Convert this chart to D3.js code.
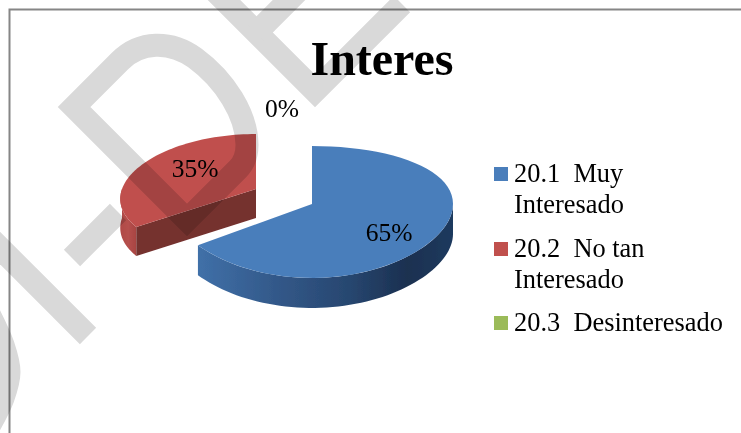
<!DOCTYPE html>
<html>
<head>
<meta charset="utf-8">
<script src="https://cdn.jsdelivr.net/npm/d3@7"></script>
<style>
  html, body { margin: 0; padding: 0; background: #fff; }
  svg { display: block; }
  text { font-family: "Liberation Serif", serif; fill: #000; }
</style>
</head>
<body>
<div id="chart"></div>
<script>
const width = 741;
const height = 433;

const categories = [['20.1  Muy', 'Interesado'], ['20.2  No tan', 'Interesado'], ['20.3  Desinteresado']];
const values = [65, 35, 0];
const percentLabels = ['65%', '35%', '0%'];
const colors = ['#4a7ebb', '#c0504d', '#9bbb59'];
const title = 'Interes';

const svg = d3.select('#chart')
    .append('svg')
    .attr('width', width)
    .attr('height', height);

const defs = svg.append('defs');

function wallGradient(id, stops) {
    const g = defs.append('linearGradient').attr('id', id);
    stops.forEach(s => g.append('stop').attr('offset', s[0]).attr('stop-color', s[1]));
}
wallGradient('blueWall', [[0, '#4070a8'], [0.3, '#33598a'], [0.6, '#27466f'], [0.82, '#1b3050'], [1, '#1f3a5e']]);
wallGradient('redWall', [[0, '#b04946'], [0.5, '#b5504d'], [1, '#a84341']]);

defs.append('filter')
    .attr('id', 'soft')
    .append('feGaussianBlur')
    .attr('stdDeviation', 0.5);

const pie = d3.pie().sort(null).value(d => d);
const slices = pie(values);

// hand fitted 3d look of each slice, the red one is pulled out
const views = [
    { cx: 312, cy: 204, r: 141, ry: 65, py: 0.121, qx: 0, depth: 30 },
    { cx: 256, cy: 189, r: 134, ry: 60.7, py: 0.1035, qx: 0.16, depth: 29 }
];

// angle is clockwise from the top, like d3.pie
function project(view, a, drop = 0) {
    const u = Math.sin(a);
    const v = -Math.cos(a);
    return [
        view.cx + view.r * u / (1 - view.qx * v),
        view.cy + view.ry * v / (1 - view.py * v) + drop
    ];
}

function arcPoints(view, a0, a1, drop = 0) {
    return d3.range(0, 61).map(i => project(view, a0 + (a1 - a0) * i / 60, drop));
}

const line = d3.line();
const pieG = svg.append('g').attr('id', 'pie').attr('filter', 'url(#soft)');

// blue wall, from the rim's right side round to the cut
const blue = slices[0];
const blueView = views[0];
const wallTop = arcPoints(blueView, Math.PI / 2, blue.endAngle);
const wallBottom = arcPoints(blueView, Math.PI / 2, blue.endAngle, blueView.depth).reverse();
pieG.append('path')
    .attr('d', line(wallTop.concat(wallBottom)) + 'Z')
    .attr('fill', 'url(#blueWall)');

pieG.append('path')
    .attr('d', line([[blueView.cx, blueView.cy]].concat(arcPoints(blueView, blue.startAngle, blue.endAngle))) + 'Z')
    .attr('fill', colors[0]);

// red walls
const red = slices[1];
const redView = views[1];
const rimEnd = 1.5 * Math.PI;
const redWallTop = arcPoints(redView, red.startAngle, rimEnd);
const redWallBottom = arcPoints(redView, red.startAngle, rimEnd, redView.depth).reverse();
pieG.append('path')
    .attr('d', line(redWallTop.concat(redWallBottom)) + 'Z')
    .attr('fill', 'url(#redWall)');

const corner = project(redView, red.startAngle);
pieG.append('path')
    .attr('d', line([
        [redView.cx, redView.cy],
        corner,
        [corner[0], corner[1] + redView.depth],
        [redView.cx, redView.cy + redView.depth]
    ]) + 'Z')
    .attr('fill', '#74302e');

pieG.append('path')
    .attr('d', line([[redView.cx, redView.cy]].concat(arcPoints(redView, red.startAngle, red.endAngle))) + 'Z')
    .attr('fill', colors[1]);

// percent labels
const labelPos = [[389, 241], [195, 177], [282, 117]];
svg.append('g').selectAll('text')
    .data(percentLabels)
    .enter()
    .append('text')
    .attr('x', (d, i) => labelPos[i][0])
    .attr('y', (d, i) => labelPos[i][1])
    .attr('text-anchor', 'middle')
    .attr('font-size', 25.5)
    .text(d => d);

svg.append('text')
    .attr('x', 382)
    .attr('y', 75)
    .attr('text-anchor', 'middle')
    .attr('font-size', 48)
    .attr('font-weight', 'bold')
    .text(title);

// legend
const legendY = [182, 257, 331];
const legend = svg.append('g').attr('id', 'legend');
categories.forEach((rows, i) => {
    legend.append('rect')
        .attr('x', 494)
        .attr('y', legendY[i] - 15)
        .attr('width', 14)
        .attr('height', 14)
        .attr('fill', colors[i]);
    rows.forEach((t, j) => {
        legend.append('text')
            .attr('x', 514)
            .attr('y', legendY[i] + j * 31)
            .attr('font-size', 26.4)
            .style('white-space', 'pre')
            .text(t);
    });
});

// frame, only top and left show in the crop
svg.append('path')
    .attr('d', `M9.5,${height}V9.5H${width}`)
    .attr('fill', 'none')
    .attr('stroke', '#868686')
    .attr('stroke-width', 2);

// grey watermark strokes laid over everything
const wm = svg.append('g')
    .attr('fill', 'none')
    .attr('stroke', '#d9d9d9')
    .attr('stroke-width', 23)
    .attr('stroke-linejoin', 'miter')
    .attr('stroke-miterlimit', 10)
    .style('mix-blend-mode', 'multiply');

wm.append('path').attr('d', 'M187,220L74,107L120,61C140,41 170,40 195,58C225,80 247,115 247,145Q247,160 238,169Z');
wm.append('path').attr('d', line([[-10, 238], [88, 336]]));
wm.append('path').attr('d', line([[72, 258], [118, 212]]));
wm.append('path').attr('d', line([[214, -10], [315, 91], [402, 4]]));
wm.append('path').attr('d', line([[256, 33], [300, -11]]));
wm.append('path').attr('d', d3.line().curve(d3.curveCatmullRom)([[-12, 312], [3, 345], [9, 372], [3, 398], [-12, 428]]));
</script>
</body>
</html>
